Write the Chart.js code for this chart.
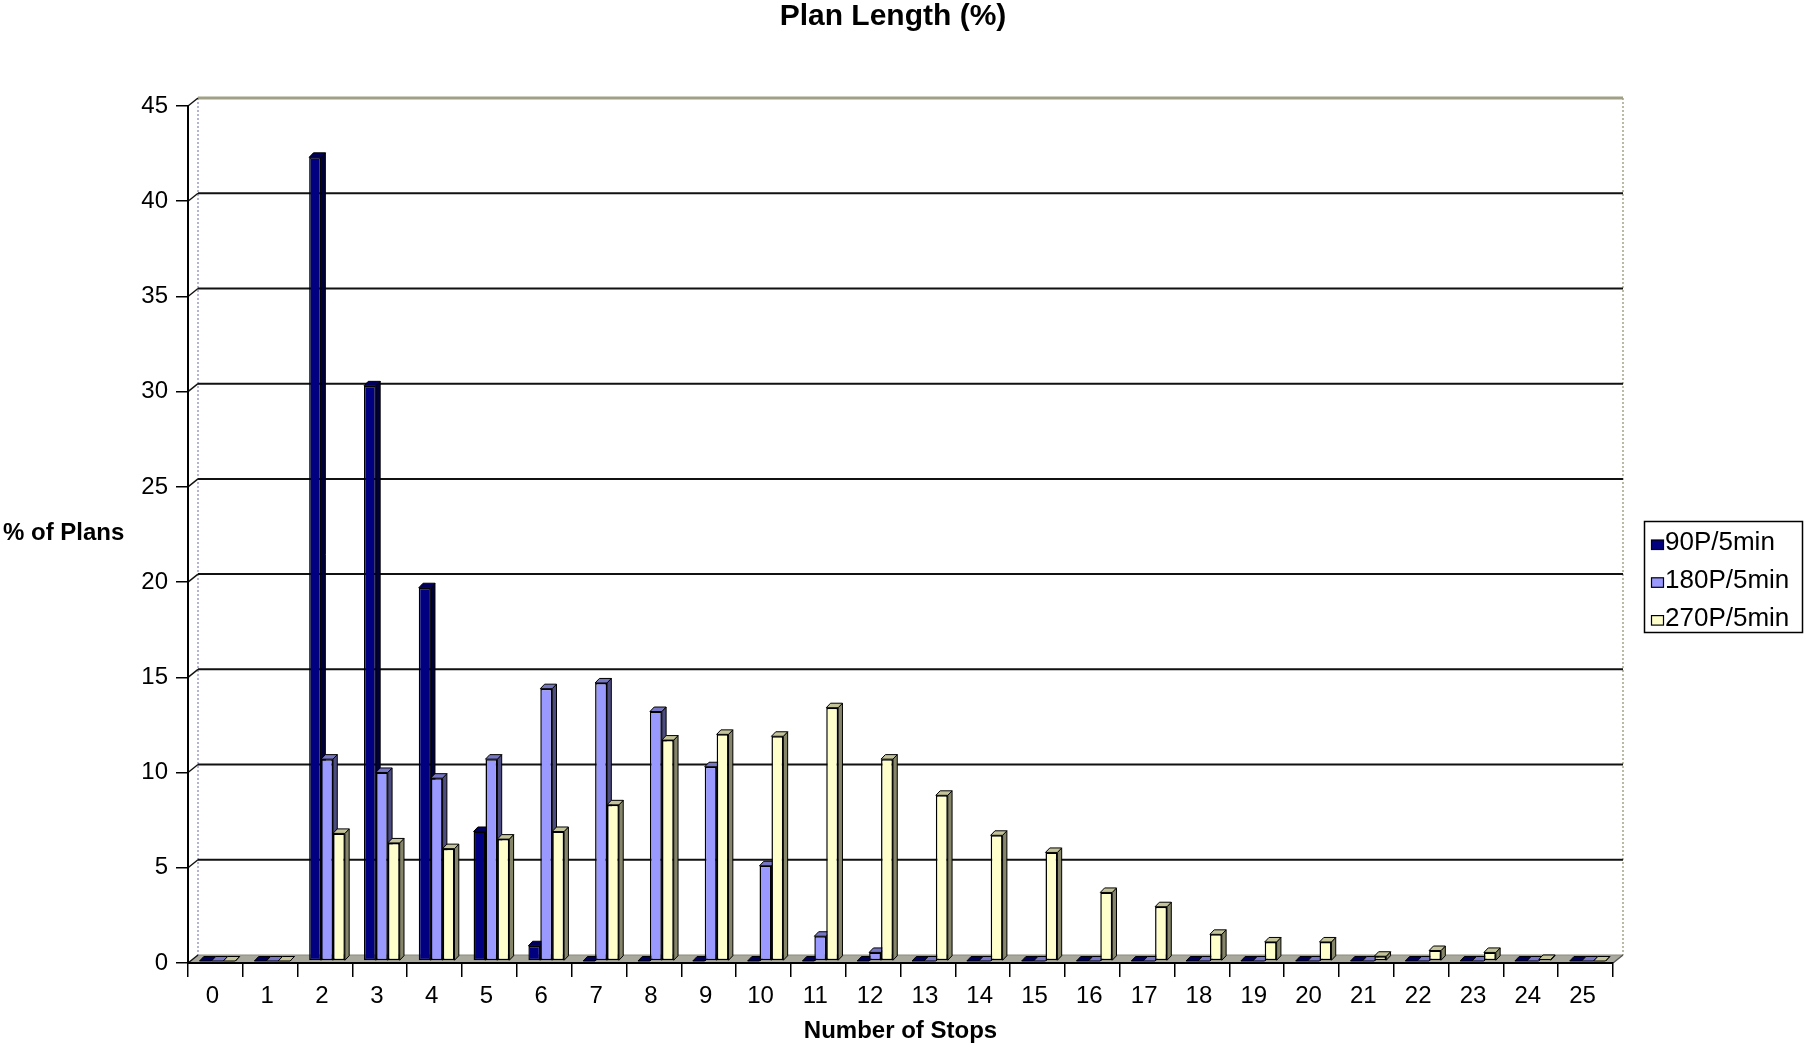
<!DOCTYPE html>
<html>
<head>
<meta charset="utf-8">
<title>Plan Length (%)</title>
<script src="https://cdn.jsdelivr.net/npm/chart.js@4.4.0/dist/chart.umd.min.js"></script>
<style>
  html, body { margin: 0; padding: 0; background: #ffffff; }
  #wrap { width: 1806px; height: 1053px; }
</style>
</head>
<body>
<div id="wrap"><canvas id="chart" width="1806" height="1053"></canvas></div>
<script>
// Number of stops per plan (x categories)
const stops = ['0','1','2','3','4','5','6','7','8','9','10','11','12','13','14','15','16','17','18','19','20','21','22','23','24','25'];

// Series names
const seriesNames = ['90P/5min', '180P/5min', '270P/5min'];

// Share of plans (%) for each number of stops
const plans90  = [0, 0, 42.2, 30.2, 19.6, 6.8, 0.8, 0, 0, 0, 0, 0, 0, 0, 0, 0, 0, 0, 0, 0, 0, 0, 0, 0, 0, 0];
const plans180 = [0, 0, 10.6, 9.9, 9.6, 10.6, 14.3, 14.6, 13.1, 10.2, 5.0, 1.3, 0.45, 0, 0, 0, 0, 0, 0, 0, 0, 0, 0, 0, 0, 0];
const plans270 = [0, 0, 6.7, 6.2, 5.9, 6.4, 6.8, 8.2, 11.6, 11.9, 11.8, 13.3, 10.6, 8.7, 6.6, 5.7, 3.6, 2.85, 1.4, 1.0, 1.0, 0.25, 0.55, 0.45, 0.08, 0];

// Value axis range
const yMin = 0, yMax = 45, yStep = 5;

const FONT = "'Liberation Sans', Arial, Helvetica, sans-serif";

// series colours: front, top, side
const fills = [
  { front: '#000080', top: '#00005c', side: '#000038' },
  { front: '#9999ff', top: '#7676c4', side: '#4c4c80' },
  { front: '#ffffcc', top: '#c4c49a', side: '#85856a' }
];

// depth of the back wall and of each column
const WALL_DX = 10, WALL_DY = 8;
const COL_DX = 4.3, COL_DY = 4.5;
const COL_SHIFT_X = 2, COL_SHIFT_Y = -2;

function poly(ctx, pts, fill, stroke, lw) {
  ctx.beginPath();
  ctx.moveTo(pts[0][0], pts[0][1]);
  for (let i = 1; i < pts.length; i++) ctx.lineTo(pts[i][0], pts[i][1]);
  ctx.closePath();
  if (fill) { ctx.fillStyle = fill; ctx.fill(); }
  if (stroke) { ctx.strokeStyle = stroke; ctx.lineWidth = lw || 1; ctx.stroke(); }
}

function line(ctx, x1, y1, x2, y2, color, lw, dash) {
  ctx.save();
  ctx.beginPath();
  ctx.strokeStyle = color;
  ctx.lineWidth = lw;
  if (dash) ctx.setLineDash(dash);
  ctx.moveTo(x1, y1);
  ctx.lineTo(x2, y2);
  ctx.stroke();
  ctx.restore();
}

// Back wall, side wall and floor of the 3-D plot box
const wallPlugin = {
  id: 'wall3d',
  beforeDraw(chart) {
    const ctx = chart.ctx;
    const { left, right, top, bottom } = chart.chartArea;
    const ys = chart.scales.y;
    ctx.save();
    ctx.fillStyle = '#ffffff';
    ctx.fillRect(0, 0, chart.width, chart.height);

    // floor
    poly(ctx, [[left, bottom], [left + WALL_DX, bottom - WALL_DY], [right + WALL_DX, bottom - WALL_DY], [right, bottom]], '#a8a89c');

    // wall edges
    line(ctx, left + WALL_DX, top - WALL_DY, left + WALL_DX, bottom - WALL_DY, '#9a9ac4', 1.5, [2, 2]);
    line(ctx, right + WALL_DX, top - WALL_DY, right + WALL_DX, bottom - WALL_DY, '#a4a488', 1.5, [2, 2]);

    // gridlines on the back wall and the side wall
    ys.ticks.forEach(t => {
      const py = ys.getPixelForValue(t.value);
      if (t.value === yMax) {
        line(ctx, left + WALL_DX, py - WALL_DY, right + WALL_DX, py - WALL_DY, '#a0a086', 3);
      } else if (t.value === yMin) {
        line(ctx, left + WALL_DX, py - WALL_DY, right + WALL_DX, py - WALL_DY, '#8a8a7c', 1);
      } else {
        line(ctx, left + WALL_DX, py - WALL_DY, right + WALL_DX, py - WALL_DY, '#111111', 2);
      }
      line(ctx, left, py, left + WALL_DX, py - WALL_DY, '#111111', 1.4);
    });
    // floor right edge
    line(ctx, right, bottom, right + WALL_DX, bottom - WALL_DY, '#555555', 1.4);
    ctx.restore();
  },
  beforeDatasetsDraw(chart) {
    const ctx = chart.ctx;
    ctx.save();
    ctx.translate(COL_SHIFT_X, COL_SHIFT_Y);
    // top and side faces of every column; the front faces come from the bar elements
    const n = chart.data.labels.length;
    for (let i = 0; i < n; i++) {
      chart.data.datasets.forEach((ds, d) => {
        const meta = chart.getDatasetMeta(d);
        const el = meta.data[i];
        if (!el) return;
        const { x, y, base, width } = el.getProps(['x', 'y', 'base', 'width'], true);
        const l = x - width / 2, r = x + width / 2;
        const c = fills[d];
        poly(ctx, [[r, y], [r + COL_DX, y - COL_DY], [r + COL_DX, base - COL_DY], [r, base]], c.side, '#000000', 1);
        poly(ctx, [[l, y], [l + COL_DX, y - COL_DY], [r + COL_DX, y - COL_DY], [r, y]], c.top, '#000000', 1);
      });
    }
  },
  afterDatasetsDraw(chart) {
    chart.ctx.restore();
  },
  afterDraw(chart) {
    const ctx = chart.ctx;
    ctx.save();
    // chart title
    ctx.fillStyle = '#000000';
    ctx.font = 'bold 30px ' + FONT;
    ctx.textAlign = 'center';
    ctx.textBaseline = 'middle';
    ctx.fillText('Plan Length (%)', 893, 17);

    // value axis title (horizontal)
    ctx.font = 'bold 24px ' + FONT;
    ctx.textAlign = 'left';
    ctx.fillText('% of Plans', 3, 533);

    // legend
    const bx = 1644.5, by = 521.5, bw = 158, bh = 111;
    ctx.lineWidth = 1.5;
    ctx.strokeStyle = '#000000';
    ctx.strokeRect(bx, by, bw, bh);
    ctx.font = '26px ' + FONT;
    ctx.textBaseline = 'alphabetic';
    chart.data.datasets.forEach((ds, d) => {
      const baseY = 550 + d * 37.8;
      ctx.fillStyle = ds.backgroundColor;
      ctx.fillRect(1651.5, baseY - 10, 12, 9.5);
      ctx.lineWidth = 1.2;
      ctx.strokeRect(1651.5, baseY - 10, 12, 9.5);
      ctx.fillStyle = '#000000';
      ctx.fillText(ds.label, 1665, baseY);
    });
    ctx.restore();
  }
};

const datasetStyle = (k) => ({
  backgroundColor: fills[k].front,
  borderColor: '#000000',
  borderWidth: 1.5,
  borderSkipped: false,
  barPercentage: 1,
  categoryPercentage: 0.652,
  clip: false
});

new Chart(document.getElementById('chart'), {
  type: 'bar',
  data: {
    labels: stops,
    datasets: [
      Object.assign({ label: seriesNames[0], data: plans90 }, datasetStyle(0)),
      Object.assign({ label: seriesNames[1], data: plans180 }, datasetStyle(1)),
      Object.assign({ label: seriesNames[2], data: plans270 }, datasetStyle(2))
    ]
  },
  options: {
    responsive: false,
    animation: false,
    devicePixelRatio: 1,
    layout: { padding: { left: 88, right: 193, top: 106, bottom: 0 } },
    plugins: {
      legend: { display: false },
      title: { display: false },
      tooltip: { enabled: false }
    },
    scales: {
      x: {
        type: 'category',
        offset: true,
        grid: { display: true, drawOnChartArea: false, drawTicks: true, tickLength: 14, color: '#000000', lineWidth: 1.5, offset: true },
        border: { display: true, color: '#000000', width: 2 },
        ticks: { color: '#000000', font: { family: FONT, size: 24 }, padding: 5, labelOffset: -3, autoSkip: false, maxRotation: 0, minRotation: 0 },
        title: { display: true, text: 'Number of Stops', color: '#000000', font: { family: FONT, size: 24, weight: 'bold' }, padding: { top: 0, bottom: 7 } },
        afterFit(scale) { scale.height = 90; }
      },
      y: {
        min: yMin,
        max: yMax,
        grid: { display: true, drawOnChartArea: false, drawTicks: true, tickLength: 12, color: '#000000', lineWidth: 1.5 },
        border: { display: true, color: '#000000', width: 2 },
        ticks: { stepSize: yStep, color: '#000000', font: { family: FONT, size: 24 }, padding: 8 },
        afterFit(scale) { scale.width = 100; }
      }
    }
  },
  plugins: [wallPlugin]
});
</script>
</body>
</html>
